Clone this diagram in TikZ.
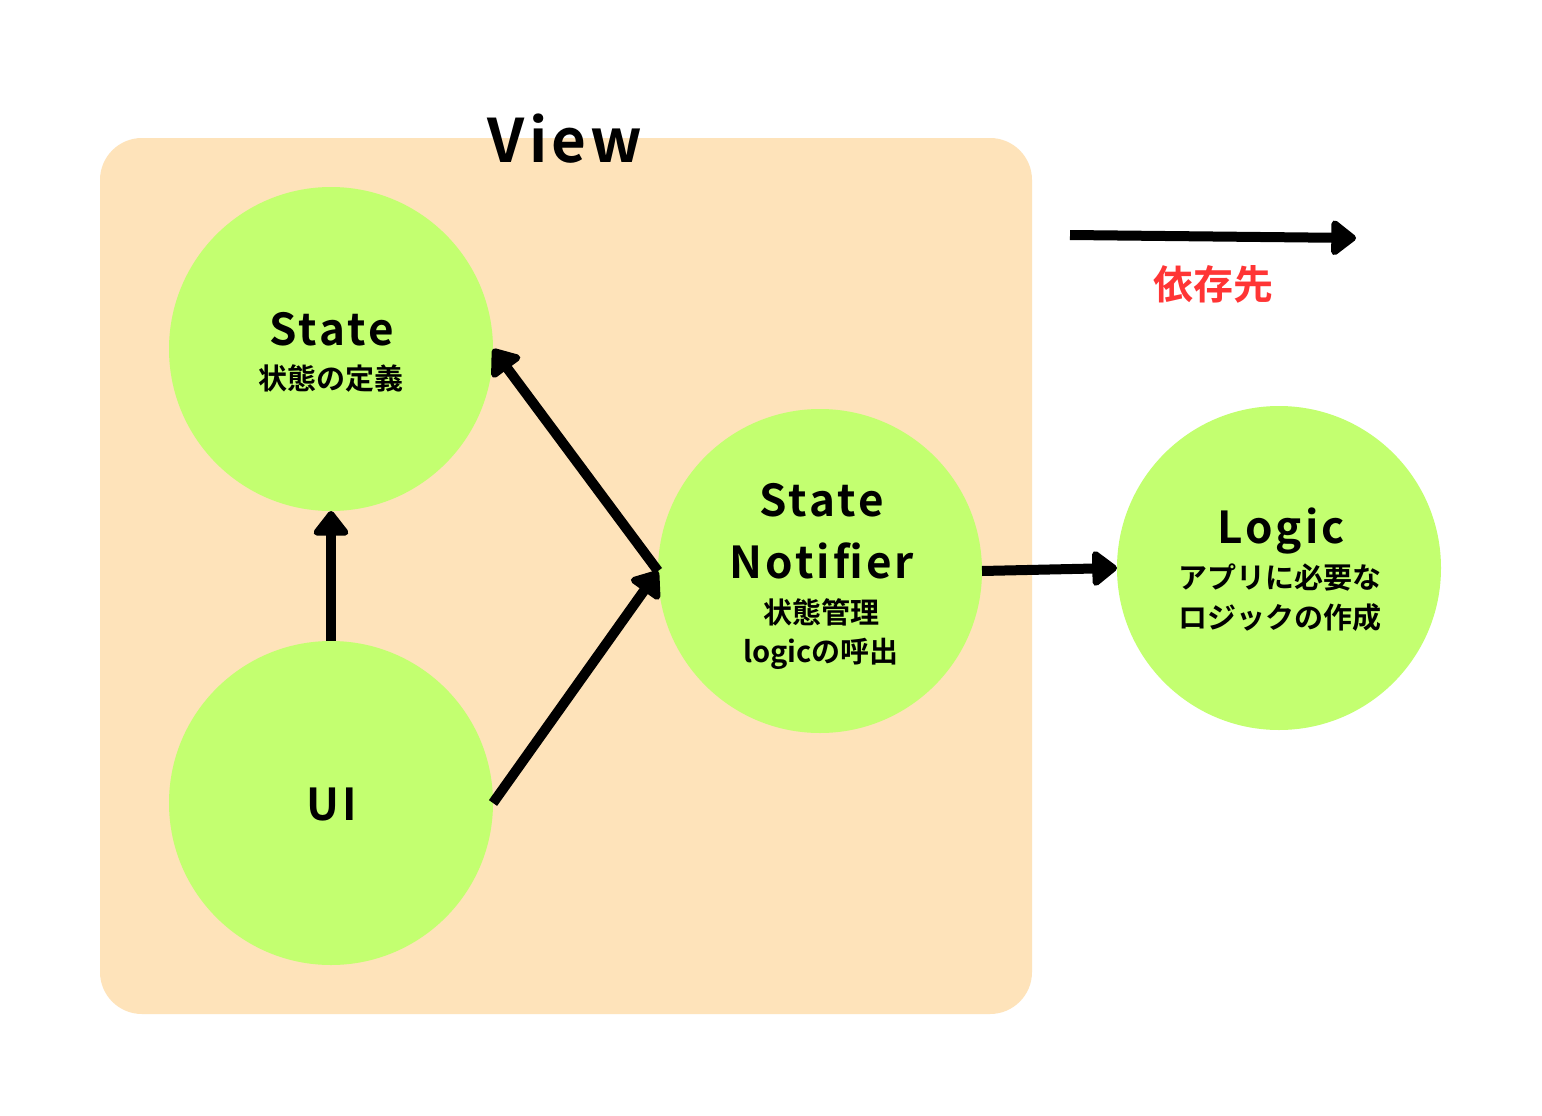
\documentclass[tikz,border=0pt]{standalone}
\usepackage{fontspec}
\setmainfont{Noto Sans CJK JP Bold}[LetterSpace=7]
\newfontfamily\cjkb{Noto Sans CJK JP Bold}
\usetikzlibrary{arrows.meta}
\definecolor{boxfill}{HTML}{FEE3BA}
\definecolor{circfill}{HTML}{C3FF70}
\definecolor{legred}{HTML}{FF3535}
\tikzset{
  blob/.style={circle, fill=circfill, minimum size=324pt, inner sep=0pt, outer sep=0pt},
  depend/.style={line width=10pt, -{Triangle[length=27pt,width=40pt,round]}},
  big/.style={anchor=base, inner sep=0pt, font=\fontsize{44}{50}\selectfont},
  small/.style={anchor=base, inner sep=0pt, font=\cjkb\fontsize{29}{34}\selectfont},
}
\begin{document}
\begin{tikzpicture}[x=1pt,y=-1pt]
\useasboundingbox (0,0) rectangle (1542,1116);
\fill[white] (0,0) rectangle (1542,1116);
\fill[boxfill, rounded corners=42pt] (100,138) rectangle (1032,1014);
\node[anchor=base, inner sep=0pt, font=\fontsize{60}{68}\selectfont] (viewlbl) at (565,162) {View};

\node[blob] (state) at (331,349) {};
\node[blob] (ui) at (331,803) {};
\node[blob] (notifier) at (820,571) {};
\node[blob] (logic) at (1279,568) {};

\node[big] (statet) at (332,345) {State};
\node[small] (statej) at (331,389) {状態の定義};

\node[big] (uit) at (332,820) {UI};

\node[big] (snt1) at (822,516) {State};
\node[big] (snt2) at (822,578) {Notifier};
\node[small] (snj1) at (821,623) {状態管理};
\node[small] (snj2) at (821,662) {logicの呼出};

\node[big] (logt) at (1281,543) {Logic};
\node[small] (logj1) at (1280,588) {アプリに必要な};
\node[small] (logj2) at (1280,628) {ロジックの作成};

\draw[depend] (ui.north) -- (state.south);
\draw[depend] (notifier.west) -- (state.east);
\draw[depend] (ui.east) -- (notifier.west);
\draw[depend] (notifier.east) -- (logic.west);

\coordinate (lega) at (1070,235);
\coordinate (legb) at (1356,238);
\draw[depend] (lega) -- (legb);
\node[anchor=base, inner sep=0pt, text=legred, font=\cjkb\fontsize{40}{46}\selectfont] (legt) at (1213,299) {依存先};
\end{tikzpicture}
\end{document}
